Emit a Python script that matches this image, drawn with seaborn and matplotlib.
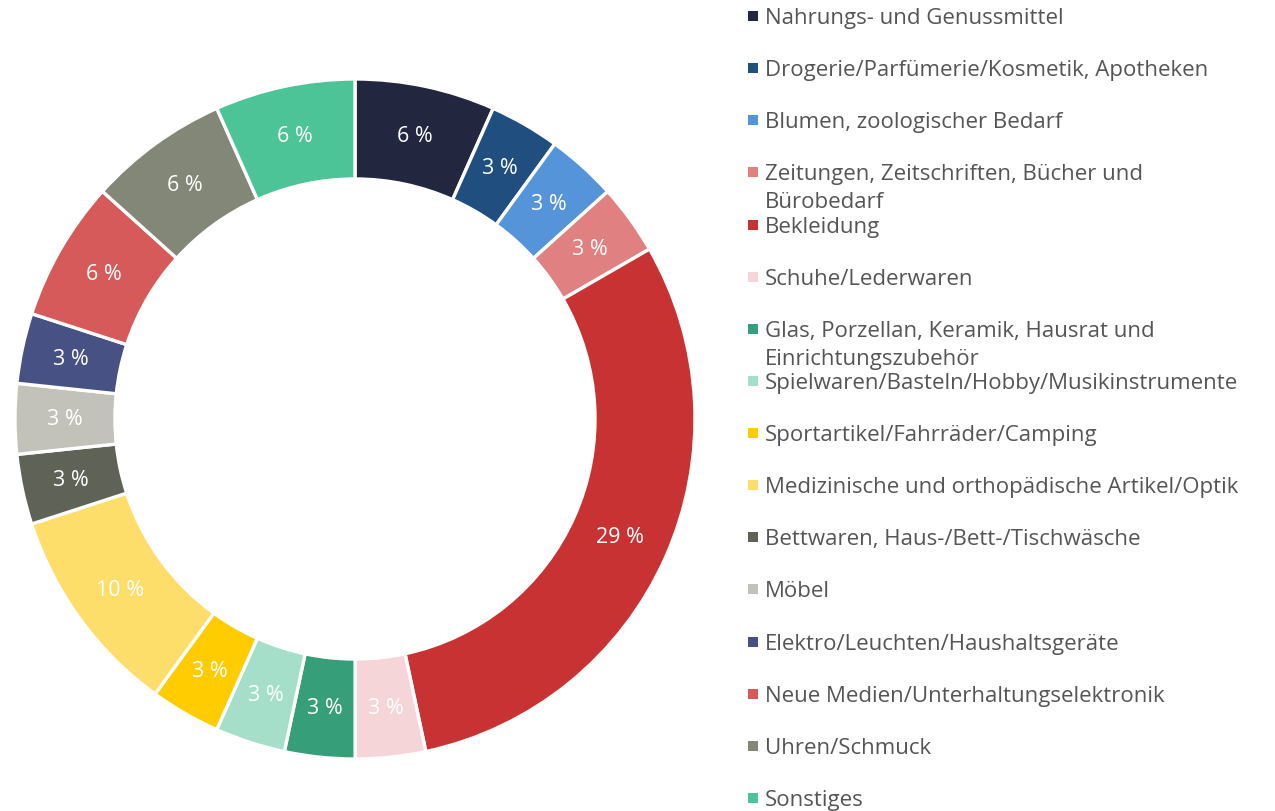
import matplotlib
matplotlib.use("Agg")
import matplotlib.pyplot as plt
import seaborn as sns

categories = [
    "Nahrungs- und Genussmittel",
    "Drogerie/Parfümerie/Kosmetik, Apotheken",
    "Blumen, zoologischer Bedarf",
    "Zeitungen, Zeitschriften, Bücher und\nBürobedarf",
    "Bekleidung",
    "Schuhe/Lederwaren",
    "Glas, Porzellan, Keramik, Hausrat und\nEinrichtungszubehör",
    "Spielwaren/Basteln/Hobby/Musikinstrumente",
    "Sportartikel/Fahrräder/Camping",
    "Medizinische und orthopädische Artikel/Optik",
    "Bettwaren, Haus-/Bett-/Tischwäsche",
    "Möbel",
    "Elektro/Leuchten/Haushaltsgeräte",
    "Neue Medien/Unterhaltungselektronik",
    "Uhren/Schmuck",
    "Sonstiges",
]
shares = [6.45, 3.23, 3.23, 3.23, 29.03, 3.23, 3.23, 3.23, 3.23, 9.68,
          3.23, 3.23, 3.23, 6.45, 6.45, 6.45]
colors = ["#22273f", "#1f4e7f", "#5594d8", "#e08080", "#c83232", "#f5d5d8",
          "#379e7a", "#a5dfca", "#fecc00", "#fede6a", "#5f6256", "#c2c2ba",
          "#475183", "#d65a5a", "#838777", "#4dc398"]

sns.set_theme(style="white")
plt.rcParams["font.family"] = ["Open Sans", "DejaVu Sans"]
palette = sns.color_palette(colors)

W, H = 1275, 812
fig = plt.figure(figsize=(W / 100, H / 100), dpi=100)

# donut
cx, cy, r = 355, 420, 340
ax = fig.add_axes([(cx - r) / W, (H - cy - r) / H, 2 * r / W, 2 * r / H])
wedges, texts, autotexts = ax.pie(
    shares, colors=palette, startangle=90, counterclock=False,
    autopct=lambda p: f"{p * 0.968:.0f} %", pctdistance=0.853,
    wedgeprops=dict(width=0.294, edgecolor="white", linewidth=2.4),
    textprops=dict(color="white", fontsize=15.5),
)
ax.set_xlim(-1, 1)
ax.set_ylim(-1, 1)
ax.set_aspect("equal")
ax.axis("off")

# legend
lx = 745
lg = fig.add_axes([lx / W, 0, (W - lx) / W, 1])
step = (799 - 17) / 15
lg.set_xlim(0, W - lx)
lg.set_ylim((H - 17) / step, -17 / step)
lg.axis("off")
for i, (name, col) in enumerate(zip(categories, palette)):
    lg.scatter(8, i, marker="s", s=50, color=col, linewidths=0)
    for j, line in enumerate(name.split("\n")):
        lg.text(20, i + (j * 28 + 1.5) / step, line, va="center", ha="left",
                fontsize=16, color="#555555")

fig.savefig("out.png", dpi=100)
